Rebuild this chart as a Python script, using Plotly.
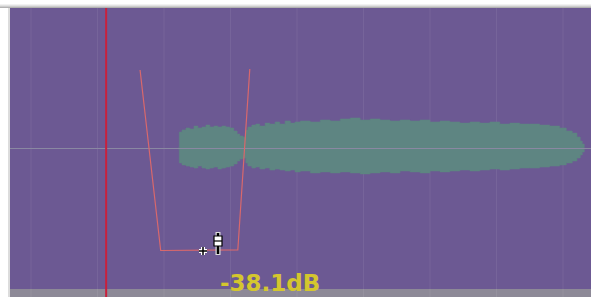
import plotly.graph_objects as go

# ---- data (time in s, amplitude -1..1) ----
wave_t = [2.21, 2.23, 2.27, 2.33, 2.39, 2.45, 2.51, 2.57, 2.63, 2.69, 2.75, 2.81, 2.87, 2.93,
          2.99, 3.05, 3.10, 3.14, 3.19, 3.23, 3.26, 3.32, 3.38, 3.44, 3.52, 3.59, 3.67, 3.74,
          3.82, 3.90, 3.97, 4.05, 4.20, 4.35, 4.50, 4.65, 4.80, 4.95, 5.10, 5.25, 5.40, 5.55,
          5.70, 5.85, 6.00, 6.15, 6.30, 6.45, 6.60, 6.75, 6.90, 7.05, 7.20, 7.35, 7.50, 7.65,
          7.80, 7.95, 8.05, 8.14, 8.21, 8.26, 8.29, 8.32]
wave_top = [0.004, 0.117, 0.132, 0.146, 0.139, 0.160, 0.146, 0.153, 0.167, 0.153, 0.160, 0.153,
            0.160, 0.153, 0.146, 0.125, 0.103, 0.089, 0.082, 0.132, 0.153, 0.167, 0.174, 0.160,
            0.181, 0.174, 0.189, 0.174, 0.196, 0.181, 0.189, 0.196, 0.189, 0.203, 0.196, 0.210,
            0.217, 0.203, 0.210, 0.203, 0.196, 0.203, 0.196, 0.203, 0.189, 0.196, 0.189, 0.181,
            0.189, 0.181, 0.189, 0.174, 0.181, 0.174, 0.174, 0.167, 0.160, 0.146, 0.125, 0.110,
            0.082, 0.053, 0.032, 0.004]
wave_bot = [-0.004, -0.103, -0.117, -0.125, -0.132, -0.139, -0.125, -0.139, -0.146, -0.139,
            -0.132, -0.146, -0.139, -0.132, -0.125, -0.110, -0.089, -0.075, -0.068, -0.103,
            -0.125, -0.139, -0.132, -0.146, -0.139, -0.153, -0.146, -0.153, -0.160, -0.153,
            -0.167, -0.160, -0.174, -0.167, -0.174, -0.167, -0.174, -0.181, -0.174, -0.167,
            -0.174, -0.160, -0.167, -0.174, -0.160, -0.167, -0.160, -0.153, -0.160, -0.153,
            -0.146, -0.153, -0.146, -0.139, -0.139, -0.132, -0.125, -0.117, -0.103, -0.089,
            -0.068, -0.046, -0.025, -0.004]

env_t = [1.64, 1.95, 3.11, 3.29]
env_amp = [0.559, -0.726, -0.722, 0.566]

cursor_t = 1.13
grid_ticks = [0, 1, 2, 3, 4, 5, 6, 7, 8]
label = "-38.1dB"

X0, X1 = -0.316, 8.421
W, H = 591, 297
L, R, T, B = 10, 0, 8, 8
PW, PH = W - L - R, H - T - B


def px(x):
    return (x - L) / PW


def py(y):
    return (H - B - y) / PH


BG = "#6c5993"
fig = go.Figure()

fig.add_trace(go.Scatter(x=wave_t, y=wave_bot, mode="lines", line=dict(color="#5e8582", width=0.5, shape="hv"),
                         hoverinfo="skip", showlegend=False))
fig.add_trace(go.Scatter(x=wave_t, y=wave_top, mode="lines", line=dict(color="#5e8582", width=0.5, shape="hv"),
                         fill="tonexty", fillcolor="#5e8582", hoverinfo="skip", showlegend=False))
fig.add_trace(go.Scatter(x=[X0, X1], y=[0, 0], mode="lines", line=dict(color="#8a88a2", width=1.1),
                         hoverinfo="skip", showlegend=False))
fig.add_trace(go.Scatter(x=env_t, y=env_amp, mode="lines", line=dict(color="#d9686c", width=1.2),
                         hoverinfo="skip", showlegend=False))

shapes = []
# bottom gray bar
shapes.append(dict(type="rect", xref="paper", yref="paper", x0=0, x1=1, y0=py(297), y1=py(289),
                   fillcolor="#8d8997", line=dict(width=0), layer="below"))
# top shadow
for y0, c in [(4, "#f2f2f2"), (5, "#e2e2e2"), (6, "#cdcdcd"), (7, "#b2b2b2")]:
    shapes.append(dict(type="rect", xref="paper", yref="paper", x0=px(0), x1=1, y0=py(y0 + 1), y1=py(y0),
                       fillcolor=c, line=dict(width=0)))
# left shadow
shapes.append(dict(type="rect", xref="paper", yref="paper", x0=px(8), x1=px(10), y0=py(297), y1=py(8),
                   fillcolor="#dcdcdc", line=dict(width=0)))
# faint grid
for g in grid_ticks:
    shapes.append(dict(type="line", xref="x", yref="paper", x0=g, x1=g, y0=py(297), y1=1,
                       line=dict(color="rgba(255,255,255,0.07)", width=1), layer="below"))
# cursor line
shapes.append(dict(type="line", xref="x", yref="paper", x0=cursor_t, x1=cursor_t, y0=py(297), y1=1,
                   line=dict(color="#c8203c", width=2)))
# crosshair cursor icon
for w, c in [(4, "white"), (1.5, "black")]:
    shapes.append(dict(type="line", xref="paper", yref="paper", x0=px(199), x1=px(207), y0=py(251), y1=py(251),
                       line=dict(color=c, width=w)))
    shapes.append(dict(type="line", xref="paper", yref="paper", x0=px(203), x1=px(203), y0=py(247), y1=py(255),
                       line=dict(color=c, width=w)))
# slider handle icon
shapes.append(dict(type="line", xref="paper", yref="paper", x0=px(218), x1=px(218), y0=py(255), y1=py(232),
                   line=dict(color="#dddddd", width=5)))
shapes.append(dict(type="line", xref="paper", yref="paper", x0=px(218), x1=px(218), y0=py(254), y1=py(233),
                   line=dict(color="black", width=2.5)))
shapes.append(dict(type="rect", xref="paper", yref="paper", x0=px(214), x1=px(222), y0=py(246), y1=py(236),
                   fillcolor="white", line=dict(color="black", width=1.2)))
shapes.append(dict(type="line", xref="paper", yref="paper", x0=px(214), x1=px(222), y0=py(241), y1=py(241),
                   line=dict(color="black", width=1.2)))

fig.update_layout(
    width=W, height=H, margin=dict(l=L, r=R, t=T, b=B),
    paper_bgcolor="white", plot_bgcolor=BG,
    xaxis=dict(range=[X0, X1], visible=False, fixedrange=True),
    yaxis=dict(range=[-1, 1], visible=False, fixedrange=True),
    shapes=shapes,
    annotations=[dict(text=label, xref="paper", yref="paper", x=px(270), y=py(283),
                      xanchor="center", yanchor="middle", showarrow=False,
                      font=dict(family="DejaVu Sans", size=23, color="#d4c62e", weight="bold"))],
)

fig.write_html("out.html", config={"displayModeBar": False},
               post_script="document.body.style.margin='0';document.body.style.overflow='hidden';")
